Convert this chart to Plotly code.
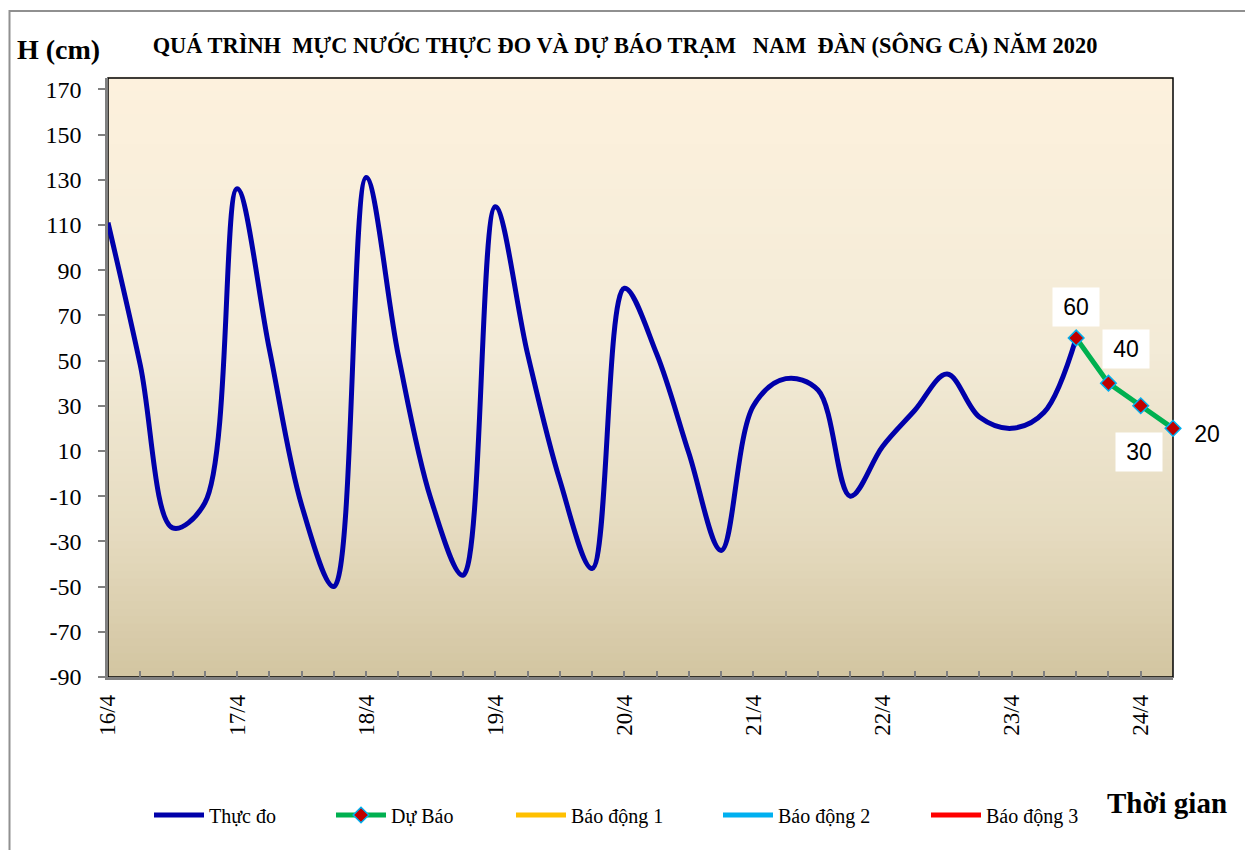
import plotly.graph_objects as go
import pandas as pd

# ---------------- data ----------------
obs_times = pd.date_range("2020-04-16 00:00", periods=31, freq="6h")
obs_values = [111, 48, -24, -13, 126, 55, -14, -50, 131, 52, -11, -45, 118, 53, -3, -42,
              82, 53, 9, -34, 30, 42, 37, -10, 12, 28, 44, 25, 20, 27, 60]

fc_times = pd.date_range("2020-04-23 12:00", periods=4, freq="6h")
fc_values = [60, 40, 30, 20]

alarm_names = ["Báo động 1", "Báo động 2", "Báo động 3"]
alarm_levels = [540, 690, 790]
alarm_colors = ["#FFC000", "#00B0F0", "#FF0000"]

day_ticks = pd.date_range("2020-04-16", "2020-04-24", freq="D")
day_labels = ["16/4", "17/4", "18/4", "19/4", "20/4", "21/4", "22/4", "23/4", "24/4"]

y_ticks = [-90, -70, -50, -30, -10, 10, 30, 50, 70, 90, 110, 130, 150, 170]
y_labels = ["-90", "-70", "-50", "-30", "-10", "10", "30", "50", "70", "90",
            "110", "130", "150", "170"]
y_range = [-90, 175]

title_text = ("QUÁ TRÌNH\u00a0 MỰC NƯỚC THỰC ĐO VÀ DỰ BÁO TRẠM\u00a0\u00a0 NAM\u00a0 ĐÀN "
              "(SÔNG CẢ) NĂM 2020")

# ---------------- layout geometry (screen pixels; page body has an 8px margin) ----------------
OFF = 8
FW, FH = 1253 - OFF, 850 - OFF
SL, SR, ST, SB = 108, 1173, 78, 677

def px_x(p):
    return (p - SL) / (SR - SL)

def px_y(p):
    return (SB - p) / (SB - ST)

fig = go.Figure()

fig.add_trace(go.Scatter(
    x=obs_times, y=obs_values, name="Thực đo", mode="lines",
    line=dict(color="#0000AA", width=5, shape="spline", smoothing=1.0),
    legend="legend",
))
fig.add_trace(go.Scatter(
    x=fc_times, y=fc_values, name="Dự Báo", mode="lines+markers",
    line=dict(color="#00B050", width=5),
    marker=dict(symbol="diamond", size=12, color="#C00000",
                line=dict(color="#00B0F0", width=1.5)),
    cliponaxis=False, legend="legend2",
))
all_times = list(obs_times) + list(fc_times[1:])
for k, (name, lvl, col) in enumerate(zip(alarm_names, alarm_levels, alarm_colors)):
    fig.add_trace(go.Scatter(
        x=all_times, y=[lvl] * len(all_times), name=name, mode="lines",
        line=dict(color=col, width=5), legend="legend%d" % (k + 3),
    ))

# gradient background bands
def lerp(c1, c2, t):
    return tuple(round(a + (b - a) * t) for a, b in zip(c1, c2))

stops = [(0.0, (253, 241, 221)), (0.45, (243, 235, 215)), (0.75, (230, 220, 193)),
         (1.0, (211, 197, 161))]
shapes = []
n_bands = 80
for i in range(n_bands):
    f = (i + 0.5) / n_bands  # fraction from top
    for (f0, c0), (f1, c1) in zip(stops[:-1], stops[1:]):
        if f0 <= f <= f1:
            col = lerp(c0, c1, (f - f0) / (f1 - f0))
            break
    shapes.append(dict(type="rect", xref="paper", yref="paper", layer="below",
                       x0=0, x1=1, y0=1 - (i + 1) / n_bands, y1=1 - i / n_bands + 0.002,
                       line=dict(width=0), fillcolor="rgb(%d,%d,%d)" % col))
# plot area border (black)
shapes.append(dict(type="rect", xref="paper", yref="paper", layer="below",
                   x0=0, x1=1, y0=0, y1=1, line=dict(color="black", width=1.5)))
# outer chart border (grey)
shapes.append(dict(type="rect", xref="paper", yref="paper", layer="above",
                   x0=px_x(OFF + 1.5), x1=px_x(1248), y0=px_y(870), y1=px_y(11),
                   line=dict(color="#909090", width=2)))

serif = "Liberation Serif, Times New Roman, serif"

annotations = [
    dict(text="<b>H (cm)</b>", xref="paper", yref="paper", x=px_x(58), y=px_y(50),
         showarrow=False, font=dict(family=serif, size=28, color="black"),
         xanchor="center", yanchor="middle"),
    dict(text="<b>Thời gian</b>", xref="paper", yref="paper", x=px_x(1167), y=px_y(803),
         showarrow=False, font=dict(family=serif, size=29, color="black"),
         xanchor="center", yanchor="middle"),
]
label_offsets = [(0, -31), (18, -34), (-2, 46), (34, 6)]
for t, v, (ox, oy) in zip(fc_times, fc_values, label_offsets):
    annotations.append(dict(
        x=t, y=v, xref="x", yref="y", text=str(v), showarrow=True,
        arrowcolor="rgba(0,0,0,0)", ax=ox, ay=oy, axref="pixel", ayref="pixel",
        bgcolor="white", width=40, height=32, borderpad=3,
        font=dict(family="Liberation Sans, Arial, sans-serif", size=23, color="black"),
    ))

legend_text_x = [208, 390, 570, 777, 985]
legend_style = dict(orientation="h", yanchor="middle", xanchor="left",
                    font=dict(family=serif, size=20, color="black"),
                    bgcolor="rgba(0,0,0,0)", itemwidth=50)
legends = {}
for k, tx in enumerate(legend_text_x):
    key = "legend" if k == 0 else "legend%d" % (k + 1)
    legends[key] = dict(legend_style, x=px_x(tx - 59), y=px_y(815))

fig.update_layout(
    width=FW, height=FH,
    margin=dict(l=SL - OFF, r=FW - (SR - OFF), t=ST - OFF, b=FH - (SB - OFF)),
    paper_bgcolor="white", plot_bgcolor="rgba(0,0,0,0)",
    title=dict(text="<b>" + title_text + "</b>", x=px_x(625), xref="paper", xanchor="center",
               y=1 - (45 - OFF) / FH, yanchor="middle",
               font=dict(family=serif, size=22.4, color="black")),
    showlegend=True,
    shapes=shapes,
    annotations=annotations,
    **legends,
)

fig.update_xaxes(
    type="date",
    range=[obs_times[0], fc_times[-1]],
    tickvals=list(day_ticks), ticktext=day_labels, tickangle=-90,
    ticks="inside", ticklen=6, tickcolor="#808080", tickwidth=1.5,
    minor=dict(ticks="inside", ticklen=6, tickcolor="#808080", tickwidth=1.5,
               dtick=6 * 3600 * 1000, tick0="2020-04-16"),
    showline=True, linecolor="#808080", linewidth=2.5,
    showgrid=False, zeroline=False,
    tickfont=dict(family=serif, size=23, color="black"),
    ticklabelstandoff=6,
)
fig.update_yaxes(
    range=y_range, tickmode="array", tickvals=y_ticks, ticktext=y_labels,
    ticks="outside", ticklen=7, tickcolor="#808080", tickwidth=1.5,
    showline=True, linecolor="#808080", linewidth=2.5,
    showgrid=False, zeroline=False,
    tickfont=dict(family=serif, size=24, color="black"),
    ticklabelstandoff=12,
)

fig.write_html("out.html")
